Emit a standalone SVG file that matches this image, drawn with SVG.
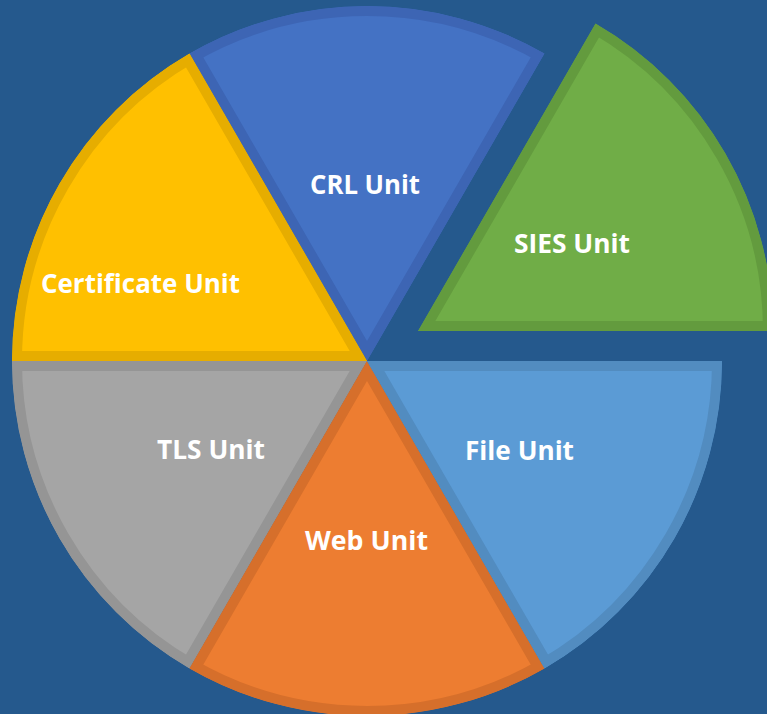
<svg xmlns="http://www.w3.org/2000/svg" width="767" height="714" viewBox="0 0 767 714">
  <style>
    .slice { stroke-width: 20; }
    .label { font-family: "Open Sans", "Noto Sans", "Liberation Sans", sans-serif; font-weight: bold; font-size: 27px; fill: #ffffff; text-anchor: middle; }
  </style>
  <defs>
    <!-- pie sectors, centre (367,361), radius 355, 60 degrees each -->
    <path id="p-crl"  d="M367,361 L544.5,53.6 A355,355 0 0 0 189.5,53.6 Z"/>
    <path id="p-cert" d="M367,361 L189.5,53.6 A355,355 0 0 0 12,361 Z"/>
    <path id="p-tls"  d="M367,361 L12,361 A355,355 0 0 0 189.5,668.4 Z"/>
    <path id="p-web"  d="M367,361 L189.5,668.4 A355,355 0 0 0 544.5,668.4 Z"/>
    <path id="p-file" d="M367,361 L544.5,668.4 A355,355 0 0 0 722,361 Z"/>
    <!-- exploded sector, pulled out along 30 degrees -->
    <path id="p-sies" d="M418,331 L773,331 A355,355 0 0 0 595.5,23.6 Z"/>
    <clipPath id="c-crl"><use href="#p-crl"/></clipPath>
    <clipPath id="c-cert"><use href="#p-cert"/></clipPath>
    <clipPath id="c-tls"><use href="#p-tls"/></clipPath>
    <clipPath id="c-web"><use href="#p-web"/></clipPath>
    <clipPath id="c-file"><use href="#p-file"/></clipPath>
    <clipPath id="c-sies"><use href="#p-sies"/></clipPath>
  </defs>

  <rect x="0" y="0" width="767" height="714" fill="#25598D"/>

  <g id="crl-unit">
    <use href="#p-crl" class="slice" fill="#4472C4" stroke="#3D65B4" clip-path="url(#c-crl)"/>
    <text class="label" x="365" y="194" textLength="110" lengthAdjust="spacingAndGlyphs">CRL Unit</text>
  </g>
  <g id="certificate-unit">
    <use href="#p-cert" class="slice" fill="#FFC000" stroke="#E6AD00" clip-path="url(#c-cert)"/>
    <text class="label" x="140.5" y="293" textLength="199" lengthAdjust="spacingAndGlyphs">Certificate Unit</text>
  </g>
  <g id="tls-unit">
    <use href="#p-tls" class="slice" fill="#A5A5A5" stroke="#959595" clip-path="url(#c-tls)"/>
    <text class="label" x="211" y="459" textLength="108" lengthAdjust="spacingAndGlyphs">TLS Unit</text>
  </g>
  <g id="web-unit">
    <use href="#p-web" class="slice" fill="#ED7D31" stroke="#D66F2B" clip-path="url(#c-web)"/>
    <text class="label" x="366.5" y="550" textLength="123" lengthAdjust="spacingAndGlyphs">Web Unit</text>
  </g>
  <g id="file-unit">
    <use href="#p-file" class="slice" fill="#5B9BD5" stroke="#528CC0" clip-path="url(#c-file)"/>
    <text class="label" x="519.5" y="460" textLength="109" lengthAdjust="spacingAndGlyphs">File Unit</text>
  </g>
  <g id="sies-unit">
    <use href="#p-sies" class="slice" fill="#70AD47" stroke="#639B3E" clip-path="url(#c-sies)"/>
    <text class="label" x="572" y="253" textLength="116" lengthAdjust="spacingAndGlyphs">SIES Unit</text>
  </g>
</svg>
